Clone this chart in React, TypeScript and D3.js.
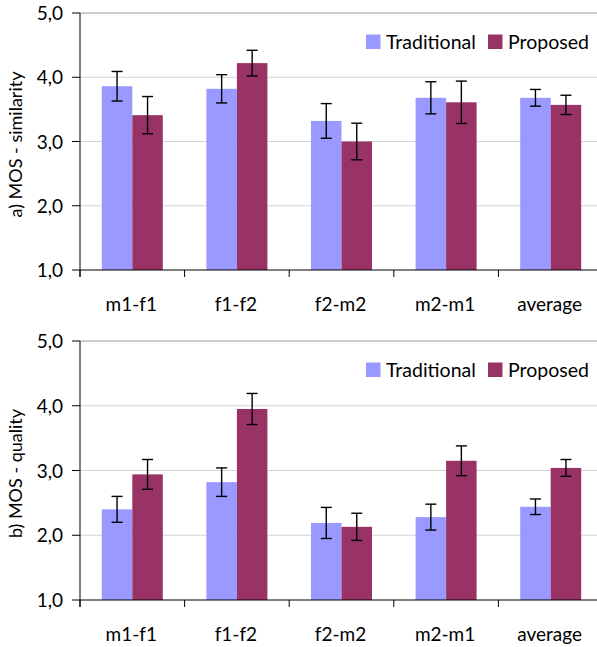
import React from "react";
import * as d3 from "d3";

const categories = ["m1-f1", "f1-f2", "f2-m2", "m2-m1", "average"];
const seriesNames = ["Traditional", "Proposed"];
const seriesColors = ["#9999FF", "#993366"];

const simTraditional = [3.86, 3.82, 3.32, 3.68, 3.68];
const simTraditionalErr = [0.23, 0.22, 0.27, 0.25, 0.13];
const simProposed = [3.41, 4.22, 3.0, 3.61, 3.57];
const simProposedErr = [0.29, 0.2, 0.285, 0.33, 0.15];

const qualTraditional = [2.4, 2.82, 2.19, 2.28, 2.44];
const qualTraditionalErr = [0.2, 0.22, 0.24, 0.2, 0.12];
const qualProposed = [2.94, 3.95, 2.13, 3.15, 3.04];
const qualProposedErr = [0.23, 0.24, 0.21, 0.23, 0.13];

const yTicks = [1, 2, 3, 4, 5];
const yTickLabels = ["1,0", "2,0", "3,0", "4,0", "5,0"];

const FONT = "Lato, 'Open Sans', sans-serif";

type PanelProps = {
  top: number;
  bottom: number;
  title: string;
  values: number[][];
  errors: number[][];
};

function Panel({ top, bottom, title, values, errors }: PanelProps) {
  const left = 80;
  const right = 603;
  const x = d3.scaleBand<string>().domain(categories).range([left, right]);
  const y = d3.scaleLinear().domain([1, 5]).range([bottom, top]);
  const inner = d3
    .scaleBand<string>()
    .domain(seriesNames)
    .range([0, 61])
    .padding(0);
  const groupOffset = (x.bandwidth() - 61) / 2;
  const cap = 5.5;
  const boundaries = d3.range(categories.length + 1).map((i) => left + i * x.bandwidth());

  return (
    <g>
      {yTicks.slice(1, 4).map((t) => (
        <line key={"g" + t} x1={left} x2={right} y1={y(t)} y2={y(t)} stroke="#d4d4d4" strokeWidth={1} />
      ))}
      <line x1={left} x2={right} y1={y(5)} y2={y(5)} stroke="#9a9a9a" strokeWidth={1} />
      {seriesNames.map((s, si) =>
        categories.map((c, ci) => {
          const bx = (x(c) as number) + groupOffset + (inner(s) as number);
          const v = values[si][ci];
          return (
            <rect
              key={s + c}
              x={bx}
              y={y(v)}
              width={inner.bandwidth()}
              height={y(1) - y(v)}
              fill={seriesColors[si]}
            />
          );
        })
      )}
      {seriesNames.map((s, si) =>
        categories.map((c, ci) => {
          const cx = (x(c) as number) + groupOffset + (inner(s) as number) + inner.bandwidth() / 2;
          const v = values[si][ci];
          const e = errors[si][ci];
          const y1 = y(v + e);
          const y2 = y(v - e);
          return (
            <g key={"e" + s + c} stroke="#000" strokeWidth={1.4}>
              <line x1={cx} x2={cx} y1={y1} y2={y2} />
              <line x1={cx - cap} x2={cx + cap} y1={y1} y2={y1} />
              <line x1={cx - cap} x2={cx + cap} y1={y2} y2={y2} />
            </g>
          );
        })
      )}
      {/* axes */}
      <line x1={left} x2={left} y1={top} y2={bottom + 7} stroke="#000" strokeWidth={1} />
      <line x1={left} x2={right} y1={bottom} y2={bottom} stroke="#000" strokeWidth={1} />
      {yTicks.map((t, i) => (
        <g key={"t" + t}>
          <line x1={left - 8} x2={left} y1={y(t)} y2={y(t)} stroke="#000" strokeWidth={1} />
          <text x={left - 17} y={y(t) + 7} textAnchor="end" fontSize={19} fontFamily={FONT} fill="#000">
            {yTickLabels[i]}
          </text>
        </g>
      ))}
      {boundaries.map((bx) => (
        <line key={"b" + bx} x1={bx} x2={bx} y1={bottom} y2={bottom + 7} stroke="#000" strokeWidth={1} />
      ))}
      {categories.map((c) => (
        <text
          key={"c" + c}
          x={(x(c) as number) + x.bandwidth() / 2 - 1}
          y={bottom + 41}
          textAnchor="middle"
          fontSize={19}
          fontFamily={FONT}
          fill="#000"
        >
          {c}
        </text>
      ))}
      <text
        transform={`translate(22, ${(top + bottom) / 2 + 3}) rotate(-90)`}
        textAnchor="middle"
        fontSize={18}
        fontFamily={FONT}
        fill="#000"
      >
        {title}
      </text>
      {/* legend */}
      <g>
        <rect x={366} y={top + 21.5} width={14.5} height={14.5} fill={seriesColors[0]} />
        <text x={386} y={top + 36} fontSize={19.5} fontFamily={FONT} fill="#000">
          {seriesNames[0]}
        </text>
        <rect x={488} y={top + 21.5} width={14.5} height={14.5} fill={seriesColors[1]} />
        <text x={508} y={top + 36} fontSize={19.5} fontFamily={FONT} fill="#000">
          {seriesNames[1]}
        </text>
      </g>
    </g>
  );
}

export default function App() {
  return (
    <svg
      width={597}
      height={647}
      style={{ position: "absolute", left: 0, top: 0, background: "#fff" }}
    >
      <rect width={597} height={647} fill="#fff" />
      <Panel
        top={13}
        bottom={270}
        title="a) MOS - similarity"
        values={[simTraditional, simProposed]}
        errors={[simTraditionalErr, simProposedErr]}
      />
      <Panel
        top={341}
        bottom={600}
        title="b) MOS - quality"
        values={[qualTraditional, qualProposed]}
        errors={[qualTraditionalErr, qualProposedErr]}
      />
    </svg>
  );
}
